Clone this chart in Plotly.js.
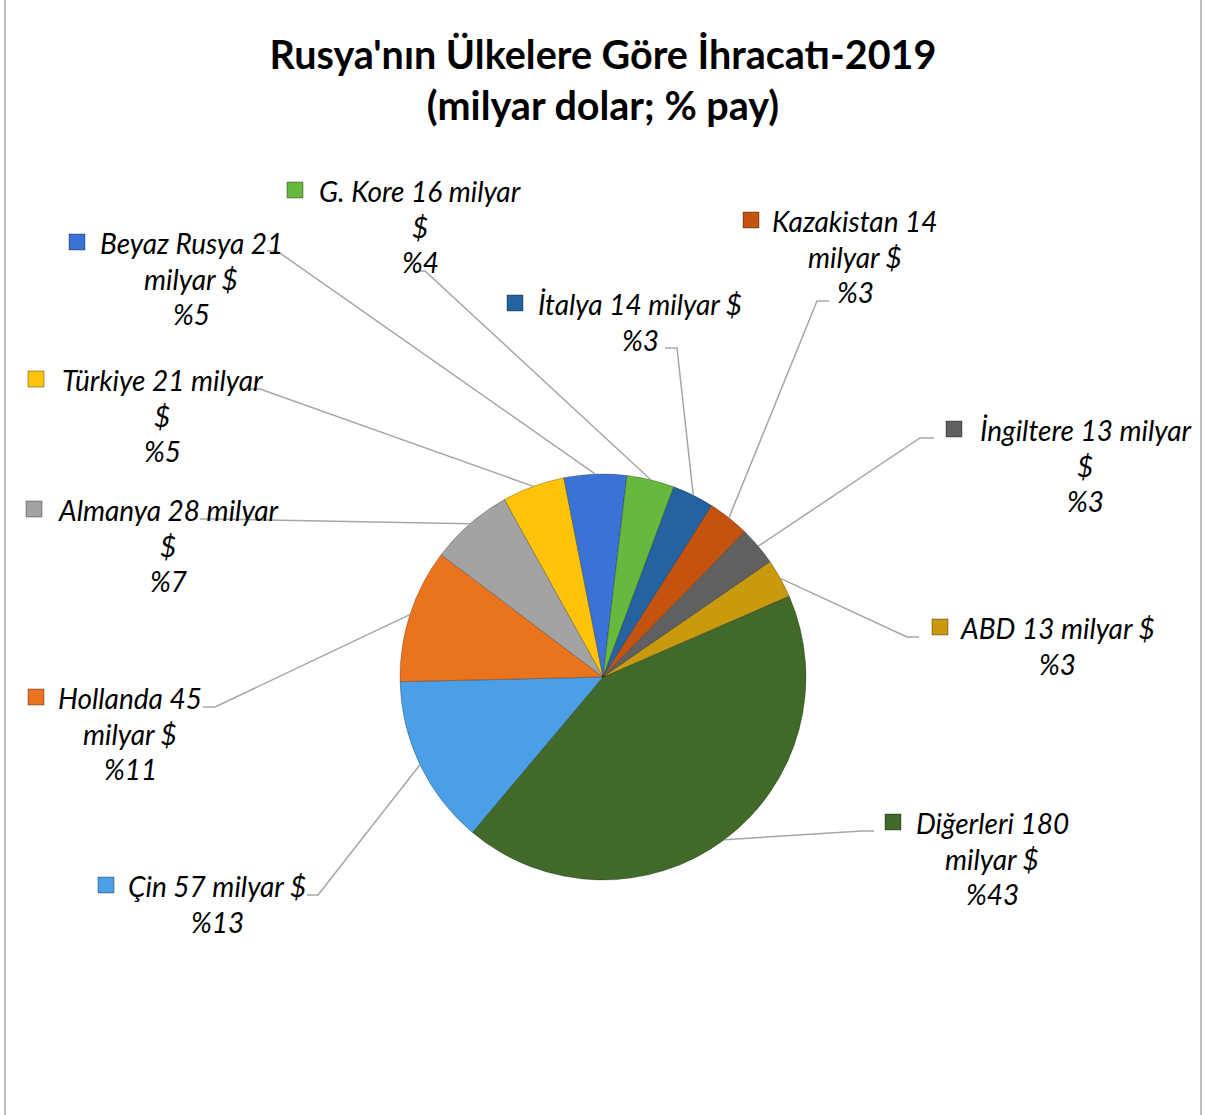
<!DOCTYPE html>
<html>
<head>
<meta charset="utf-8">
<script src="https://cdn.plot.ly/plotly-3.0.1.min.js"></script>
<style>
html,body{margin:0;padding:0;background:#fff;}
#chart{width:1206px;height:1115px;}
</style>
</head>
<body>
<div id="chart"></div>
<script>
// ---- data ----
const countries = ["Diğerleri", "Çin", "Hollanda", "Almanya", "Türkiye", "Beyaz Rusya", "G. Kore", "İtalya", "Kazakistan", "İngiltere", "ABD"];
const values = [180, 57, 45, 28, 21, 21, 16, 14, 14, 13, 13];
const shares = [43, 13, 11, 7, 5, 5, 4, 3, 3, 3, 3];
const unitText = "milyar $";
const titleText = "Rusya'nın Ülkelere Göre İhracatı-2019<br>(milyar dolar; % pay)";

// ---- styling / layout ----
const colors = ["#41692A", "#4A9FE6", "#EA731E", "#A3A3A3", "#FFC40A", "#3A72D6", "#66B83E", "#2462A0", "#C3530F", "#606060", "#C99A0E"];
const W = 1206, H = 1115;
const cx = 603, cy = 677, R = 203;
const rotation = 66.5;
// words per wrapped line for each label (rest goes on last text line, then % line)
const wrap = [[2, 2], [4, 0], [2, 2], [3, 1], [3, 1], [3, 2], [4, 1], [4, 0], [2, 2], [3, 1], [4, 0]];
const labelCenterX = [992, 217, 130, 168, 162, 191, 420, 640, 855, 1085, 1057];
const labelFirstY = [823, 886, 698, 510, 380, 243, 191, 304, 221, 430, 628];
const squareLeft = [885, 98, 28, 26, 28, 69, 287, 507, 743, 946, 932];
const lineGap = 35.7;
// leader line: start point, corner point (pixel)
const leadStart = [[874, 831], [307, 895], [203, 707], [200, 519], [250, 389], [267, 251], [415, 271], [665, 348], [829, 301], [934, 438], [919, 637]];
const leadCorner = [[862, 831], [318, 895], [215, 707], [212, 519], [260, 389], [277, 251], [425, 271], [677, 348], [817, 301], [920, 438], [907, 637]];

const px = x => x / W;
const py = y => 1 - y / H;

const total = values.reduce((a, b) => a + b, 0);
const annotations = [];
const shapes = [];

// chart border
shapes.push({type: 'line', xref: 'paper', yref: 'paper', x0: px(5), x1: px(5), y0: 0, y1: 1, line: {color: '#BFBFBF', width: 2}});
shapes.push({type: 'line', xref: 'paper', yref: 'paper', x0: px(1201), x1: px(1201), y0: 0, y1: 1, line: {color: '#BFBFBF', width: 2}});

let cum = 0;
countries.forEach((name, i) => {
  const mid = (rotation + (cum + values[i] / 2) / total * 360) * Math.PI / 180;
  cum += values[i];
  const ex = cx + R * Math.sin(mid), ey = cy - R * Math.cos(mid);
  shapes.push({
    type: 'path', xref: 'paper', yref: 'paper',
    path: `M ${px(leadStart[i][0])} ${py(leadStart[i][1])} L ${px(leadCorner[i][0])} ${py(leadCorner[i][1])} L ${px(ex)} ${py(ey)}`,
    line: {color: '#A6A6A6', width: 1.5}
  });
  const words = `${name} ${values[i]} ${unitText}`.split(' ');
  const lines = [];
  let k = 0;
  wrap[i].forEach(n => { if (n > 0) { lines.push(words.slice(k, k + n).join(' ')); k += n; } });
  if (k < words.length) lines[lines.length - 1] += ' ' + words.slice(k).join(' ');
  lines.push('%' + shares[i]);
  lines.forEach((t, j) => {
    annotations.push({
      xref: 'paper', yref: 'paper', x: px(labelCenterX[i]), y: py(labelFirstY[i] + j * lineGap),
      xanchor: 'center', yanchor: 'middle', showarrow: false, text: t,
      font: {family: 'Lato, sans-serif', size: 28, color: '#000', style: 'italic'}
    });
  });
  const s = 16;
  shapes.push({
    type: 'rect', xref: 'paper', yref: 'paper',
    x0: px(squareLeft[i]), x1: px(squareLeft[i] + s),
    y0: py(labelFirstY[i] - 1 - s / 2), y1: py(labelFirstY[i] - 1 + s / 2),
    fillcolor: colors[i], line: {color: 'rgba(0,0,0,0.35)', width: 1}
  });
});

const trace = {
  type: 'pie',
  labels: countries,
  values: values,
  sort: false,
  direction: 'clockwise',
  rotation: rotation,
  textinfo: 'none',
  hoverinfo: 'label+value+percent',
  marker: {colors: colors, line: {color: 'rgba(0,0,0,0.25)', width: 1}},
  domain: {x: [px(cx - R), px(cx + R)], y: [py(cy + R), py(cy - R)]},
  showlegend: false
};

const layout = {
  width: W, height: H,
  margin: {l: 0, r: 0, t: 0, b: 0},
  paper_bgcolor: '#fff',
  showlegend: false,
  title: {
    text: titleText, x: 0.5, xanchor: 'center', y: py(69), yanchor: 'top',
    font: {family: 'Lato, sans-serif', size: 39.5, color: '#000', weight: 'bold'}
  },
  annotations: annotations,
  shapes: shapes
};

Plotly.newPlot('chart', [trace], layout, {displayModeBar: false, staticPlot: true});
</script>
</body>
</html>
